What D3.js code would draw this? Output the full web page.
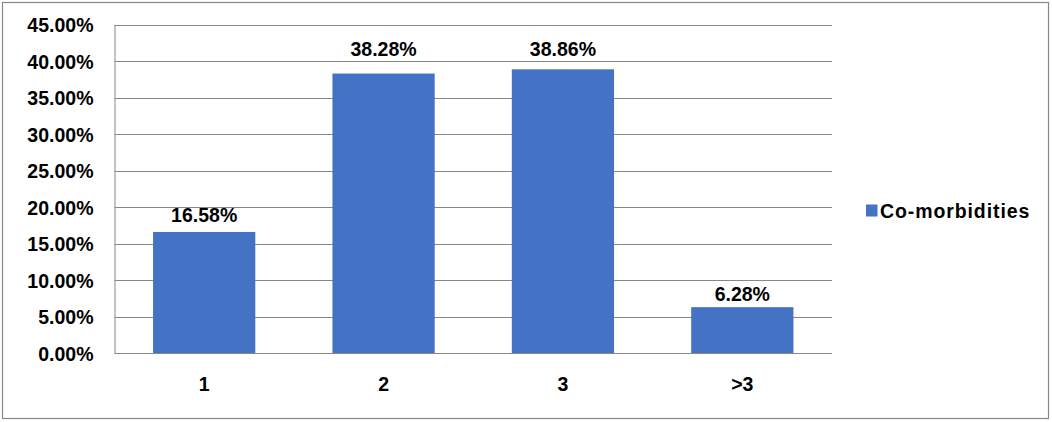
<!DOCTYPE html>
<html><head><meta charset="utf-8">
<script src="https://cdn.jsdelivr.net/npm/d3@7"></script>
<style>body{margin:0;background:#fff;} svg{display:block;font-family:"Liberation Sans",Arial,sans-serif;}</style>
</head><body>
<svg id="c" width="1052" height="422"></svg>
<script>
const categories = ["1","2","3",">3"];
const values = [16.58, 38.28, 38.86, 6.28];
const yTicks = [0,5,10,15,20,25,30,35,40,45];
const seriesName = "Co-morbidities";
// vertical gap (px) between each data label baseline and its bar top, as in the reference
const labelGap = [10, 18, 13, 6];

const FS = 19.5;
const svg = d3.select("#c");
svg.append("rect").attr("x",2.5).attr("y",2.5).attr("width",1046).attr("height",416)
  .attr("fill","#fff").attr("stroke","#888").attr("stroke-width",1.2);

const m = {l:114.5, r:832, t:24.5, b:353};
const x = d3.scaleBand().domain(categories).range([m.l,m.r]).paddingInner(0.43).paddingOuter(0.215);
const y = d3.scaleLinear().domain([0,45]).range([m.b,m.t]);

// gridlines
svg.append("g").selectAll("line").data(yTicks).join("line")
  .attr("x1",m.l).attr("x2",m.r).attr("y1",d=>Math.round(y(d))+0.5).attr("y2",d=>Math.round(y(d))+0.5)
  .attr("stroke","#888").attr("stroke-width",1);

// y axis
const yAxis = d3.axisLeft(y).tickValues(yTicks).tickSize(0).tickPadding(21).tickFormat(d=>d.toFixed(2)+"%");
const gy = svg.append("g").attr("transform",`translate(${m.l},0)`).call(yAxis);
gy.select(".domain").attr("stroke","#888");
gy.selectAll("text").attr("font-size",FS).attr("font-weight","bold").attr("fill","#000")
  .attr("font-family","Liberation Sans, Arial, sans-serif").attr("dy","0.36em");

// bars
svg.append("g").selectAll("rect").data(values).join("rect")
  .attr("x",(d,i)=>x(categories[i])).attr("width",x.bandwidth())
  .attr("y",d=>y(d)).attr("height",d=>m.b-y(d)).attr("fill","#4472C4");

// x axis
const xAxis = d3.axisBottom(x).tickSize(0).tickPadding(24);
const gx = svg.append("g").attr("transform",`translate(0,${m.b})`).call(xAxis);
gx.select(".domain").remove();
gx.selectAll("text").attr("font-size",FS).attr("font-weight","bold").attr("fill","#000")
  .attr("font-family","Liberation Sans, Arial, sans-serif");

// data labels
svg.append("g").selectAll("text").data(values).join("text")
  .attr("x",(d,i)=>x(categories[i])+x.bandwidth()/2).attr("y",(d,i)=>y(d)-labelGap[i])
  .attr("text-anchor","middle").attr("font-size",FS).attr("font-weight","bold").attr("fill","#000")
  .text(d=>d.toFixed(2)+"%");

// legend
const lg = svg.append("g").attr("transform","translate(866,204.5)");
lg.append("rect").attr("width",11.5).attr("height",12).attr("fill","#4472C4");
lg.append("text").attr("x",14).attr("y",13).attr("font-size",FS).attr("font-weight","bold")
  .attr("letter-spacing","0.9px").attr("fill","#000").text(seriesName);
</script>
</body></html>
